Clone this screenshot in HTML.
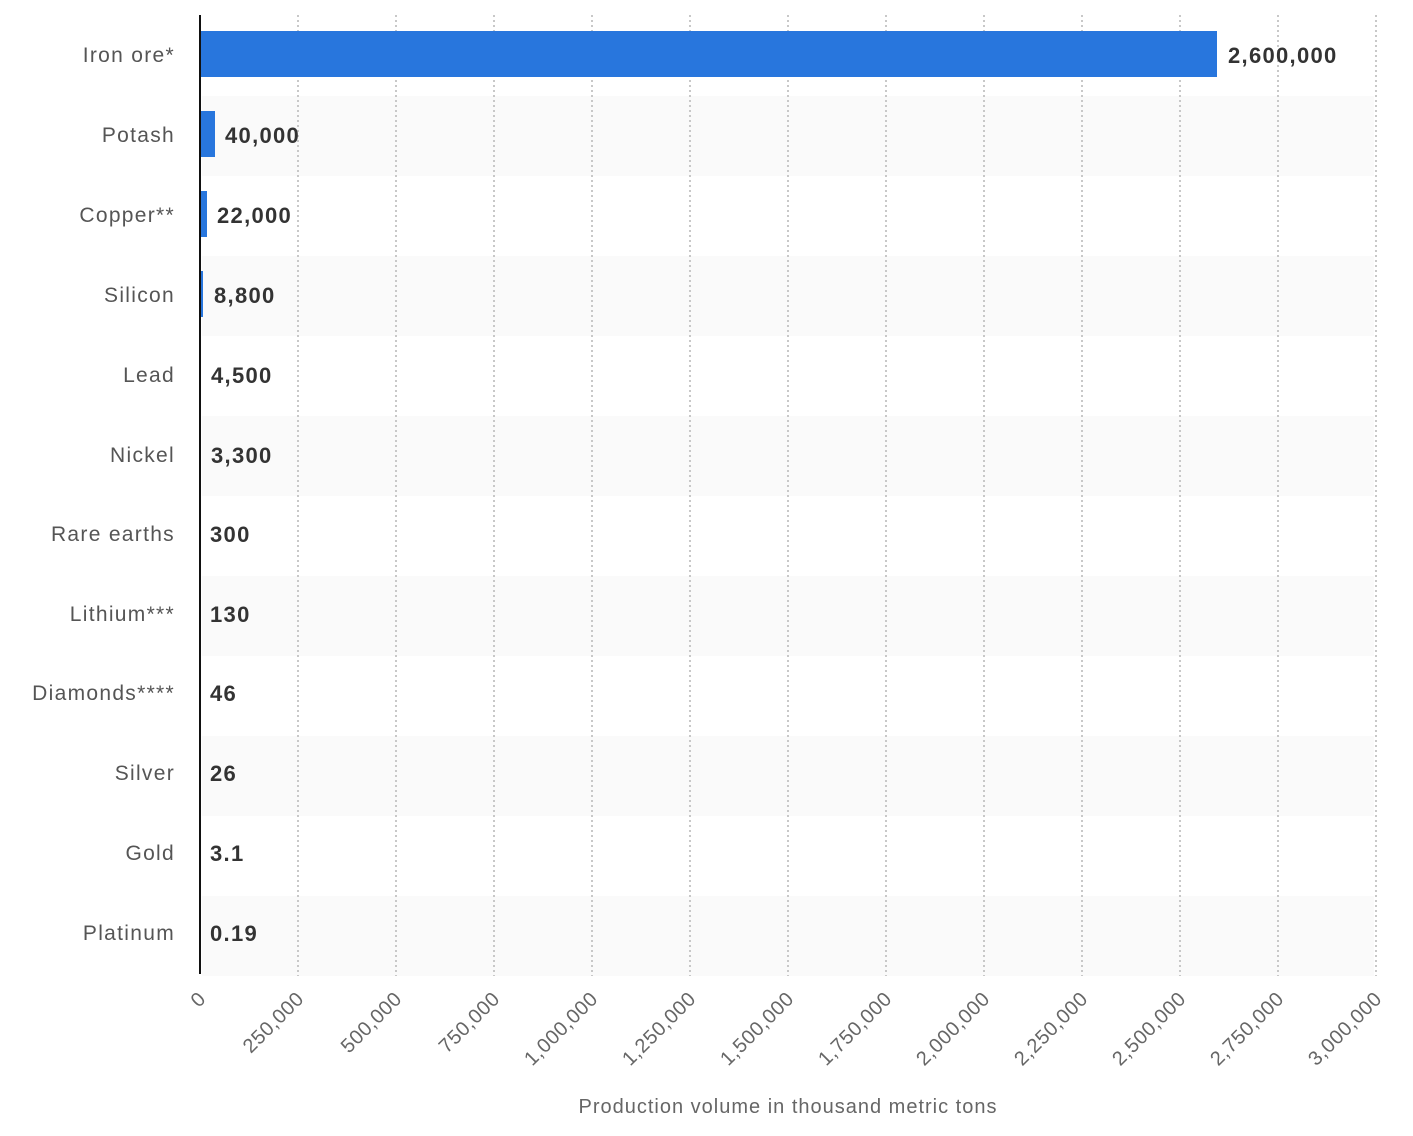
<!DOCTYPE html>
<html><head><meta charset="utf-8"><style>
body{margin:0;background:#fff}
svg{display:block}
</style></head><body>
<svg width="1413" height="1136" xmlns="http://www.w3.org/2000/svg" font-family="'Liberation Sans', sans-serif">
<g fill="#fafafa">
<rect x="202" y="96" width="1172" height="80"/>
<rect x="202" y="256" width="1172" height="80"/>
<rect x="202" y="416" width="1172" height="80"/>
<rect x="202" y="576" width="1172" height="80"/>
<rect x="202" y="736" width="1172" height="80"/>
<rect x="202" y="896" width="1172" height="80"/>
</g>
<g stroke="#c8c8c8" stroke-width="2" stroke-dasharray="2,3">
<line x1="298" y1="15" x2="298" y2="976"/><line x1="396" y1="15" x2="396" y2="976"/>
<line x1="494" y1="15" x2="494" y2="976"/><line x1="592" y1="15" x2="592" y2="976"/>
<line x1="690" y1="15" x2="690" y2="976"/><line x1="788" y1="15" x2="788" y2="976"/>
<line x1="886" y1="15" x2="886" y2="976"/><line x1="984" y1="15" x2="984" y2="976"/>
<line x1="1082" y1="15" x2="1082" y2="976"/><line x1="1180" y1="15" x2="1180" y2="976"/>
<line x1="1278" y1="15" x2="1278" y2="976"/><line x1="1376" y1="15" x2="1376" y2="976"/>
</g>
<g fill="#2876dd">
<rect x="201" y="31" width="1016" height="46"/>
<rect x="201" y="111" width="14" height="46"/>
<rect x="201" y="191" width="6" height="46"/>
<rect x="201" y="271" width="2" height="46"/>
</g>
<line x1="200" y1="15" x2="200" y2="974" stroke="#111" stroke-width="2"/>
<g font-size="21" fill="#555" text-anchor="end" letter-spacing="1.3">
<text x="175" y="62">Iron ore*</text>
<text x="175" y="142">Potash</text>
<text x="175" y="222">Copper**</text>
<text x="175" y="302">Silicon</text>
<text x="175" y="382">Lead</text>
<text x="175" y="462">Nickel</text>
<text x="175" y="541">Rare earths</text>
<text x="175" y="621">Lithium***</text>
<text x="175" y="700">Diamonds****</text>
<text x="175" y="780">Silver</text>
<text x="175" y="860">Gold</text>
<text x="175" y="940">Platinum</text>
</g>
<g font-size="22" font-weight="bold" fill="#333" letter-spacing="1.3">
<text x="1228" y="63">2,600,000</text>
<text x="225" y="143">40,000</text>
<text x="217" y="223">22,000</text>
<text x="214" y="303">8,800</text>
<text x="211" y="383">4,500</text>
<text x="211" y="463">3,300</text>
<text x="210" y="542">300</text>
<text x="210" y="622">130</text>
<text x="210" y="701">46</text>
<text x="210" y="781">26</text>
<text x="210" y="861">3.1</text>
<text x="210" y="941">0.19</text>
</g>
<g font-size="20" fill="#666" text-anchor="end" letter-spacing="0.6">
<text transform="translate(207,1000) rotate(-45)">0</text>
<text transform="translate(305,1000) rotate(-45)">250,000</text>
<text transform="translate(403,1000) rotate(-45)">500,000</text>
<text transform="translate(501,1000) rotate(-45)">750,000</text>
<text transform="translate(599,1000) rotate(-45)">1,000,000</text>
<text transform="translate(697,1000) rotate(-45)">1,250,000</text>
<text transform="translate(795,1000) rotate(-45)">1,500,000</text>
<text transform="translate(893,1000) rotate(-45)">1,750,000</text>
<text transform="translate(991,1000) rotate(-45)">2,000,000</text>
<text transform="translate(1089,1000) rotate(-45)">2,250,000</text>
<text transform="translate(1187,1000) rotate(-45)">2,500,000</text>
<text transform="translate(1285,1000) rotate(-45)">2,750,000</text>
<text transform="translate(1383,1000) rotate(-45)">3,000,000</text>
</g>
<text x="788" y="1113" font-size="20" fill="#666" text-anchor="middle" letter-spacing="1">Production volume in thousand metric tons</text>
</svg>
</body></html>
